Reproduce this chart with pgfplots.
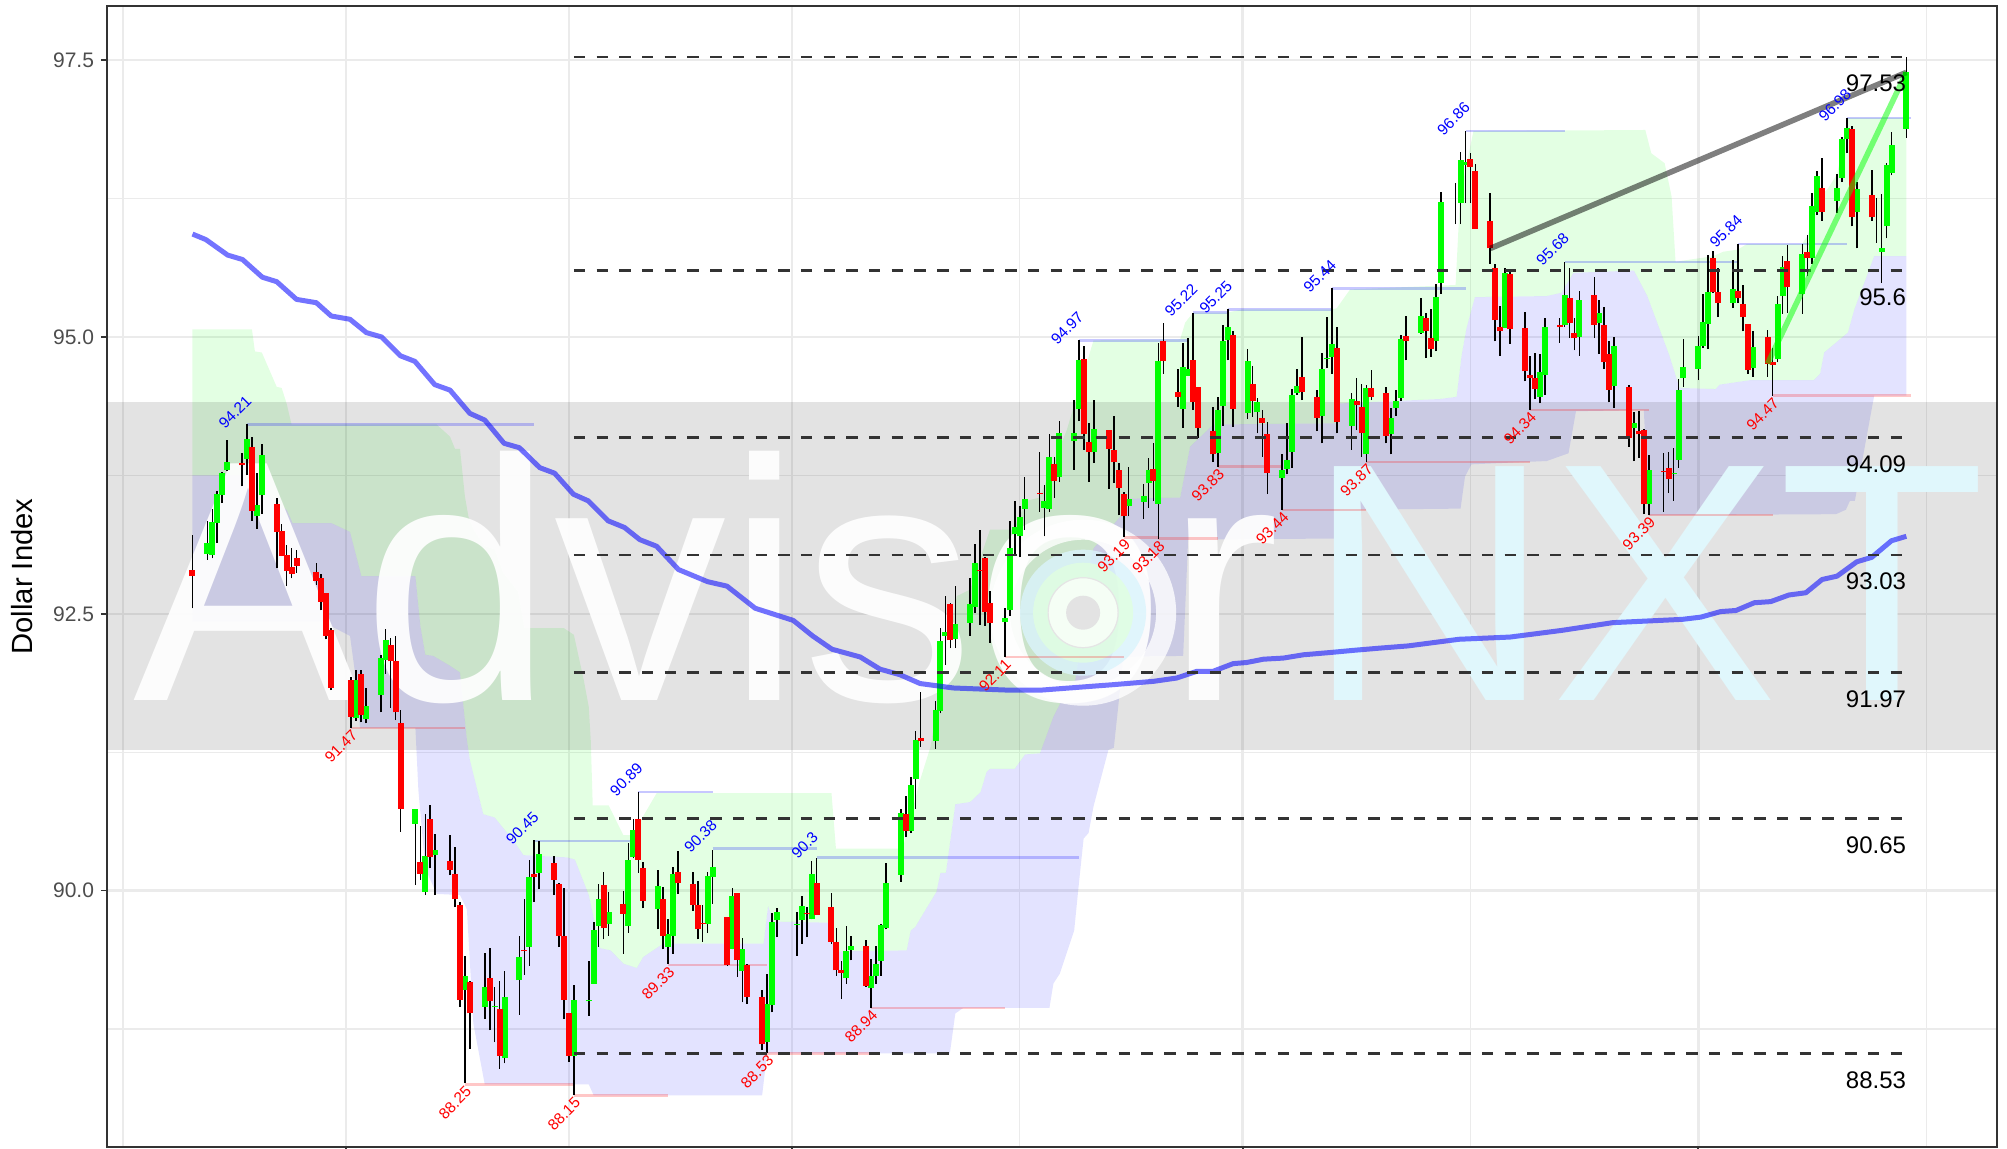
\documentclass[border=0pt]{standalone}
\usepackage{fontspec}
\setmainfont{Liberation Sans}
\usepackage{pgfplots}
\usepackage{pgfplotstable}
\pgfplotsset{compat=1.18}
\usepgfplotslibrary{fillbetween}
\definecolor{gridc}{HTML}{EBEBEB}
\definecolor{borderc}{HTML}{333333}
\definecolor{tickc}{HTML}{4D4D4D}
\definecolor{nxt}{HTML}{E0F7FC}
\pgfplotstableread{
d low high bot top
0 92.55 93.21 92.84 92.90
10 93.65 93.95 93.84 93.86
12 93.34 94.10 93.43 94.01
17 92.91 93.55 93.24 93.49
18 93.02 93.31 93.02 93.25
19 92.75 93.12 92.89 93.03
20 92.82 93.09 92.86 92.92
21 92.87 93.08 92.93 93.00
25 92.76 92.96 92.80 92.88
26 92.53 92.86 92.61 92.82
27 92.27 92.69 92.30 92.69
28 91.81 92.37 91.83 92.35
32 91.47 91.93 91.57 91.90
34 91.52 91.99 91.59 91.96
40 91.65 92.28 92.07 92.22
41 91.54 92.30 91.61 92.07
42 90.53 91.63 90.74 91.51
46 90.10 90.58 90.15 90.26
48 90.20 90.77 90.30 90.65
52 90.14 90.50 90.19 90.27
53 89.85 90.39 89.92 90.15
54 88.95 89.90 89.01 89.87
56 88.57 89.18 88.89 89.17
60 88.74 89.48 89.00 89.21
62 88.39 89.18 88.51 88.93
67 89.24 89.92 89.45 89.46
69 89.90 90.46 90.12 90.15
73 89.96 90.31 90.10 90.25
74 89.49 90.07 89.59 90.06
75 88.84 90.02 89.01 89.59
76 88.45 88.89 88.51 88.89
83 89.56 90.17 89.66 90.05
87 89.43 90.00 89.79 89.88
90 90.16 90.89 90.28 90.65
91 89.84 90.26 89.91 90.20
95 89.47 90.03 89.59 89.92
98 89.97 90.36 90.07 90.17
101 89.82 90.17 89.87 90.06
102 89.56 90.09 89.65 89.87
103 89.54 89.87 89.70 89.71
108 89.32 89.76 89.33 89.76
110 89.22 89.98 89.37 89.98
112 88.98 89.34 89.04 89.33
115 88.56 89.10 88.61 89.04
124 89.58 89.85 89.79 89.80
126 89.78 90.29 89.78 90.07
129 89.52 89.98 89.54 89.85
130 89.23 89.66 89.28 89.54
131 89.02 89.36 89.26 89.28
136 89.13 89.55 89.14 89.50
144 90.48 90.85 90.54 90.69
147 91.30 91.79 91.35 91.38
153 92.19 92.60 92.26 92.59
159 92.40 93.26 92.89 92.90
160 92.39 93.01 92.52 93.00
161 92.24 92.71 92.42 92.60
171 93.42 93.96 93.58 93.59
174 93.55 93.92 93.70 93.85
180 93.98 94.92 94.12 94.80
181 93.69 94.22 93.96 94.05
185 93.63 94.16 93.99 94.16
186 93.68 94.29 93.87 93.98
187 93.39 93.86 93.64 93.80
188 93.19 93.60 93.38 93.58
194 93.52 94.04 93.70 93.81
196 94.67 95.13 94.78 94.96
199 94.37 94.71 94.46 94.50
202 94.34 95.22 94.41 94.79
203 94.09 94.55 94.18 94.55
206 93.87 94.37 93.94 94.15
210 94.19 95.05 94.35 95.02
214 94.28 94.74 94.42 94.58
216 93.92 94.34 94.22 94.27
217 93.58 94.23 93.77 94.12
224 94.43 95.00 94.50 94.64
227 94.15 94.52 94.27 94.46
231 94.13 95.09 94.23 94.90
235 94.16 94.63 94.39 94.42
236 93.92 94.58 94.13 94.37
238 94.43 94.70 94.46 94.54
241 94.04 94.55 94.11 94.49
245 94.79 95.19 94.96 95.01
249 94.81 95.22 95.05 95.17
250 94.82 95.25 94.89 94.99
258 96.21 96.66 96.54 96.61
259 95.98 96.56 95.98 96.50
262 95.66 96.30 95.80 96.05
263 94.96 95.66 95.15 95.62
264 94.83 95.28 95.05 95.09
266 94.94 95.61 95.07 95.57
269 94.60 95.23 94.69 95.08
270 94.34 94.83 94.63 94.66
271 94.44 94.86 94.53 94.63
276 94.95 95.17 95.09 95.11
278 94.99 95.62 95.13 95.35
279 94.88 95.17 94.99 95.04
283 94.99 95.54 95.11 95.38
285 94.71 95.27 94.77 95.11
286 94.41 94.96 94.52 94.85
290 94.01 94.57 94.09 94.55
292 93.91 94.33 94.12 94.15
293 93.40 94.17 93.49 94.16
297 93.42 93.95 93.78 93.79
298 93.59 93.96 93.72 93.82
307 95.40 95.78 95.41 95.71
308 95.18 95.62 95.31 95.41
312 95.31 95.84 95.35 95.42
313 95.05 95.47 95.18 95.30
314 94.67 95.12 94.70 95.12
318 94.64 95.06 94.76 95.00
319 94.47 94.90 94.75 94.77
322 95.22 95.83 95.45 95.69
326 95.55 95.92 95.71 95.77
329 96.05 96.62 96.13 96.35
335 96.00 96.91 96.08 96.88
339 96.05 96.51 96.08 96.28
340 95.85 96.26 96.05 96.05
}\redt
\pgfplotstableread{
d low high bot top
3 92.99 93.34 93.04 93.14
4 93.00 93.45 93.03 93.33
5 93.14 93.61 93.32 93.58
6 93.50 93.78 93.57 93.77
7 93.79 94.07 93.80 93.87
11 93.75 94.21 93.90 94.08
13 93.27 93.77 93.38 93.48
14 93.40 94.03 93.57 93.93
33 91.53 91.99 91.56 91.90
35 91.51 91.83 91.55 91.67
38 91.61 92.13 91.77 92.10
39 91.96 92.36 92.08 92.26
45 90.05 90.74 90.60 90.74
47 89.96 90.69 89.99 90.31
49 89.96 90.51 90.32 90.37
55 88.26 89.41 89.10 89.23
59 88.84 89.44 88.95 89.13
61 88.63 89.13 88.95 88.96
63 88.44 89.27 88.49 89.04
66 88.88 89.59 89.19 89.40
68 89.32 90.28 89.49 90.12
70 90.01 90.45 90.16 90.33
77 88.15 89.15 88.51 89.01
80 88.87 89.36 89.00 89.01
81 89.16 89.72 89.16 89.64
82 89.49 90.06 89.68 89.92
84 89.59 89.99 89.70 89.81
88 89.62 90.43 89.68 90.28
89 90.29 90.65 90.30 90.55
94 89.65 90.19 89.83 90.04
96 89.34 89.74 89.49 89.61
97 89.43 90.21 89.59 90.15
104 89.62 90.17 89.70 90.13
105 89.88 90.37 90.12 90.21
109 89.47 90.02 89.47 89.95
111 88.99 89.57 89.27 89.47
116 88.53 89.25 88.63 88.98
117 88.90 89.80 88.97 89.72
118 89.58 89.84 89.73 89.81
122 89.41 89.81 89.69 89.70
123 89.52 89.95 89.73 89.86
125 89.74 90.27 89.74 90.15
132 89.16 89.68 89.21 89.45
133 89.37 89.59 89.46 89.50
137 88.94 89.38 89.12 89.23
138 89.16 89.50 89.23 89.34
139 89.23 89.70 89.36 89.69
140 89.65 90.25 89.66 90.07
143 90.08 90.74 90.14 90.70
145 90.52 91.03 90.54 90.95
146 90.74 91.44 91.01 91.36
150 91.28 91.71 91.35 91.63
151 91.60 92.37 91.62 92.25
152 92.04 92.66 92.30 92.34
154 92.19 92.75 92.27 92.41
157 92.30 92.82 92.42 92.59
158 92.51 93.13 92.56 92.96
164 92.11 92.55 92.43 92.46
165 92.48 93.34 92.53 93.09
166 93.02 93.52 93.22 93.28
167 93.01 93.47 93.20 93.37
168 93.26 93.74 93.45 93.54
172 93.20 93.66 93.46 93.52
173 93.42 94.12 93.45 93.92
175 93.69 94.24 93.74 94.13
178 93.80 94.43 94.06 94.13
179 94.24 94.97 94.35 94.79
182 93.86 94.43 93.96 94.17
189 93.38 93.83 93.47 93.54
192 93.36 93.67 93.51 93.56
193 93.46 93.91 93.68 93.80
195 93.18 94.95 93.49 94.78
200 94.18 94.95 94.35 94.73
201 94.65 94.99 94.65 94.71
207 93.83 94.46 93.95 94.34
208 94.20 95.11 94.38 94.96
209 94.79 95.25 94.97 95.09
213 94.26 94.89 94.31 94.78
215 94.13 94.45 94.32 94.41
220 93.44 93.94 93.73 93.80
221 93.76 94.22 93.81 93.89
222 93.82 94.53 93.96 94.48
223 94.48 94.71 94.49 94.56
228 94.04 94.86 94.29 94.71
229 94.72 95.18 94.80 94.81
230 94.67 95.44 94.82 94.94
234 93.98 94.49 94.20 94.44
237 93.87 94.57 93.94 94.54
242 93.94 94.36 94.12 94.27
243 94.29 94.52 94.36 94.42
244 94.42 95.02 94.45 94.98
248 95.03 95.35 95.04 95.19
251 94.87 95.48 94.96 95.36
252 95.39 96.31 95.49 96.22
255 96.02 96.39 96.20 96.20
256 96.02 96.67 96.21 96.60
257 96.21 96.86 96.55 96.58
265 95.08 95.62 95.08 95.58
272 94.40 94.85 94.46 94.68
273 94.48 95.17 94.66 95.09
277 95.09 95.68 95.11 95.38
280 94.83 95.42 95.00 95.33
284 94.85 95.33 95.13 95.22
287 94.36 95.00 94.56 94.92
291 93.88 94.32 94.18 94.22
294 93.39 93.93 93.49 93.80
299 93.52 94.00 93.76 93.77
300 93.82 94.62 93.89 94.52
301 94.55 94.98 94.63 94.73
304 94.61 95.01 94.71 94.92
305 94.90 95.39 94.92 95.14
306 94.89 95.74 95.12 95.41
311 95.26 95.70 95.31 95.43
315 94.64 95.05 94.72 94.91
320 94.77 95.37 94.80 95.30
321 95.21 95.73 95.37 95.63
325 95.21 95.84 95.39 95.75
327 95.66 96.30 95.71 96.18
328 96.10 96.50 96.13 96.45
332 96.12 96.47 96.23 96.35
333 96.40 96.81 96.44 96.79
334 96.66 96.98 96.79 96.89
336 95.80 96.40 96.13 96.34
341 95.49 96.29 95.77 95.80
342 95.89 96.57 96.00 96.55
343 96.46 96.85 96.48 96.73
346 96.80 97.53 96.88 97.39
}\greent
\pgfplotstableread{
d v
0 95.07
12 95.07
12.6 94.87
14 94.86
17 94.55
18 94.54
19 94.40
20 94.21
49.3 94.21
52 94.10
53 93.99
54 93.99
55 93.56
55.7 93.38
56.7 93.26
59 93.11
61 93.08
62.7 92.87
65.7 92.70
67 92.37
75 92.37
77 92.31
79 91.90
80 91.66
80.4 91.36
80.8 90.77
84 90.77
87 90.50
88.7 90.50
90.7 90.65
93.7 90.88
129 90.88
129.9 90.38
143.4 90.38
146.9 91.0
149 91.3
151 91.85
152.5 92.2
154.3 92.66
157 92.72
159 93.0
161 93.26
165.7 93.26
168.4 93.52
171 93.55
176.5 94.16
178.5 94.46
181.9 94.97
199.4 94.98
200.4 95.13
202 95.22
208.8 95.22
212 95.25
230 95.25
231 95.26
233.7 95.43
255 95.47
255.9 96.27
258.6 96.86
293.3 96.87
294.5 96.66
297.2 96.57
298.6 96.27
299.4 95.68
307 95.73
309 95.77
312 95.79
313.8 95.84
324.9 95.84
326 95.91
328.2 96.24
330.3 96.35
332 96.47
333.6 96.80
334.3 96.98
346 96.98
}\bandH
\pgfplotstableread{
d v
0 93.75
9.6 93.75
15 93.61
16.6 93.50
19 93.44
20.2 93.32
28 93.32
31.8 93.24
34.1 92.84
45 92.84
46 92.39
47 92.13
48.6 92.12
52 92.03
54 91.97
55.4 91.36
56 91.18
58.7 90.69
61 90.66
65 90.44
66.8 90.32
75.6 90.30
77.2 90.28
80 89.96
82.3 89.48
84.4 89.46
87 89.34
89.7 89.30
91 89.40
95 89.52
115.3 89.52
116.2 89.86
117.3 89.72
128.4 89.71
130 89.45
144.2 89.46
145 89.64
145.9 89.67
150.2 89.99
151 90.16
152.1 90.16
154 90.78
157 90.80
159.1 90.89
160.3 91.07
161 91.10
166 91.10
168.1 91.23
171.1 91.24
173.8 91.57
176.2 91.78
178.2 91.90
179.5 92.27
180.5 92.81
181.9 93.09
187.3 93.38
189.3 93.54
199.4 93.55
201.4 94.01
206.1 94.21
231 94.22
231.6 94.40
251.8 94.44
255.2 94.46
256.2 94.83
257.2 95.08
258.9 95.36
273.4 95.37
276.4 95.40
278.8 95.58
291 95.60
293.7 95.37
298.1 94.84
300.2 94.54
307.5 94.53
308.3 94.57
314.4 94.61
327.3 94.61
328.6 94.67
329.4 94.86
334.2 95.04
335.5 95.25
339.5 95.73
346 95.73
}\bandM
\pgfplotstableread{
d v
0 92.43
26.2 92.43
31.8 92.30
33.1 91.87
33.8 91.47
45 91.47
45.6 90.91
47 90.2
49.3 89.97
54 89.96
55.4 89.83
56.7 88.80
59 88.25
80 88.25
81 88.15
115 88.15
116 88.53
152.9 88.53
154 88.89
155.6 88.94
173 88.94
173.8 89.16
175.1 89.25
178 89.64
178.8 90.0
179.9 90.47
180.9 90.52
181.9 90.76
184.9 91.27
186 91.29
187.6 91.96
187.9 92.11
200 92.12
201 93.17
231 93.18
234 93.44
256 93.45
256.9 93.74
258.2 93.85
273.4 93.88
277.8 93.95
279.3 94.33
293 94.34
294 93.39
331.8 93.40
333.8 93.44
334.6 93.52
335.6 93.52
339.5 94.47
346 94.47
}\bandL
\pgfplotstableread{
d v
0 95.93
2.7 95.88
7.1 95.74
10.1 95.70
14.1 95.54
17 95.50
21 95.34
25 95.31
28 95.19
31.8 95.16
35.1 95.04
38.2 95.00
42 94.83
44.9 94.78
48.9 94.57
52 94.52
56 94.31
59 94.25
62.9 94.04
66 94.00
70.1 93.82
73.1 93.77
76.9 93.58
79.9 93.52
83.9 93.34
87.2 93.28
90.3 93.17
93.7 93.11
98.1 92.90
104 92.79
107.9 92.75
113.6 92.55
121.3 92.44
125.2 92.30
129.1 92.18
134.8 92.11
138.8 92.00
142.8 91.95
146.9 91.87
153.6 91.83
165 91.81
171.1 91.81
185.9 91.86
194 91.89
198.7 91.92
202.7 91.98
206 91.98
210.1 92.05
212.8 92.06
216.2 92.09
220.2 92.10
224.3 92.13
229.6 92.15
234.4 92.17
239.7 92.19
245.4 92.21
255.7 92.27
266 92.29
276.4 92.35
286.7 92.42
300.8 92.45
304.5 92.47
308.5 92.52
311.6 92.53
315.3 92.60
318.6 92.61
322.3 92.67
325.7 92.69
329 92.81
332 92.84
336 92.97
339 93.01
343 93.16
346 93.20
}\mat
\pgfplotstableread{
d v lab
11 94.21 94.21
69 90.45 90.45
90 90.89 90.89
105 90.38 90.38
126 90.30 90.3
179 94.97 94.97
202 95.22 95.22
209 95.25 95.25
230 95.44 95.44
257 96.86 96.86
277 95.68 95.68
312 95.84 95.84
334 96.98 96.98
}\hilabs
\pgfplotstableread{
d v lab
32 91.47 91.47
55 88.25 88.25
77 88.15 88.15
96 89.33 89.33
116 88.53 88.53
137 88.94 88.94
164 92.11 92.11
188 93.19 93.19
195 93.18 93.18
207 93.83 93.83
220 93.44 93.44
237 93.87 93.87
270 94.34 94.34
294 93.39 93.39
319 94.47 94.47
}\lolabs
\pgfplotstableread{
d v lab
346 97.29 97.53
346 95.36 95.6
346 93.85 94.09
346 92.79 93.03
346 91.73 91.97
346 90.41 90.65
346 88.29 88.53
}\srlabs
\newcommand\wick[1]{\addplot[forget plot,draw=none,error bars/y dir=plus,error bars/y explicit,error bars/error mark=none,error bars/error bar style={line width=.8bp,solid,black},no marks] table[x=d,y=low,y error plus expr=\thisrow{high}-\thisrow{low}] {#1};}
\newcommand\body[2]{\addplot[forget plot,draw=none,error bars/y dir=plus,error bars/y explicit,error bars/error mark=none,error bars/error bar style={line width=3bp,solid,#2},no marks] table[x=d,y=bot,y error plus expr=\thisrow{top}-\thisrow{bot}] {#1};}
\newcommand\lvlb[3]{\addplot[forget plot,blue,opacity=.22,line width=1.2bp] coordinates {(#1,#3) (#2,#3)};}
\newcommand\lvlr[3]{\addplot[forget plot,red,opacity=.22,line width=1.2bp] coordinates {(#1,#3) (#2,#3)};}
\newcommand\sr[1]{\addplot[forget plot,borderc,line width=1.3bp,dash pattern=on 5.7bp off 5.65bp] coordinates {(77,#1) (346,#1)};}
\begin{document}
\begin{tikzpicture}
\begin{axis}[
 scale only axis, width=945bp, height=570.5bp,
 xmin=-17.26, xmax=364.3, ymin=87.684, ymax=97.99,
 axis line style={borderc,line width=1.1bp},
 tick align=outside, xtick pos=bottom, ytick pos=left,
 major tick length=3bp, minor tick length=0pt,
 tick style={borderc,line width=.9bp},
 minor tick style={draw=none},
 xtick={31,121,212,304}, xticklabels={},
 minor xtick={-14,76,167,258,350},
 ytick={90,92.5,95,97.5}, yticklabels={90.0,92.5,95.0,97.5},
 minor ytick={88.75,91.25,93.75,96.25},
 grid=both,
 major grid style={gridc,line width=1.25bp},
 minor grid style={gridc,line width=.65bp},
 ticklabel style={font=\fontsize{10.5bp}{12bp}\selectfont,text=tickc},
 ylabel={Dollar Index},
 ylabel style={at={(axis description cs:-0.045,0.5)},anchor=center,font=\fontsize{14.6bp}{16bp}\selectfont},
 clip=true,
]
% watermark band
\fill[black,opacity=.11] (axis cs:-17.26,91.27) rectangle (axis cs:364.3,94.41);
\node[anchor=base west,inner sep=0pt,text=white,opacity=.93] at (axis cs:-12,91.72) {\fontsize{172bp}{172bp}\selectfont Advisor};
\node[anchor=base west,inner sep=0pt,text=nxt] at (axis cs:224.8,91.72) {\fontsize{170bp}{170bp}\selectfont NXT};
% logo
\draw[white,line width=10bp,opacity=.8] (axis cs:179.8,92.51) circle[radius=41.5bp];
\fill[fill=cyan!14!white,opacity=.8] (axis cs:179.8,92.51) circle[radius=31.5bp];
\fill[fill=green!12!white,opacity=.8] (axis cs:179.8,92.51) circle[radius=25bp];
\fill[fill=black!6!green!4!white,draw=black!10,line width=.6bp] (axis cs:179.8,92.51) circle[radius=17.5bp];
\fill[fill=black!11] (axis cs:179.8,92.51) circle[radius=8.5bp];
% ribbons
\addplot[forget plot,draw=none,name path=H] table[x=d,y=v] {\bandH};
\addplot[forget plot,draw=none,name path=M] table[x=d,y=v] {\bandM};
\addplot[forget plot,draw=none,name path=L] table[x=d,y=v] {\bandL};
\addplot[forget plot,fill=green,fill opacity=.11,draw=none] fill between[of=H and M];
\addplot[forget plot,fill=blue,fill opacity=.11,draw=none] fill between[of=M and L];
% pivot levels
\lvlb{11}{69}{94.21}\lvlb{69}{90}{90.45}\lvlb{90}{105}{90.89}\lvlb{105}{126}{90.38}\lvlb{126}{179}{90.30}
\lvlb{179}{201}{94.97}\lvlb{202}{209}{95.22}\lvlb{209}{230}{95.25}\lvlb{230}{257}{95.44}\lvlb{257}{277}{96.86}
\lvlb{277}{312}{95.68}\lvlb{312}{334}{95.84}\lvlb{334}{347}{96.98}
\lvlr{32}{55}{91.47}\lvlr{55}{77}{88.25}\lvlr{77}{96}{88.15}\lvlr{96}{116}{89.33}\lvlr{116}{137}{88.53}
\lvlr{137}{164}{88.94}\lvlr{164}{188}{92.11}\lvlr{188}{195}{93.19}\lvlr{195}{207}{93.18}\lvlr{207}{220}{93.83}
\lvlr{220}{237}{93.44}\lvlr{237}{270}{93.87}\lvlr{270}{294}{94.34}\lvlr{294}{319}{93.39}\lvlr{319}{347}{94.47}
% candles
\wick{\redt}
\wick{\greent}
\body{\greent}{green}
\body{\redt}{red}
% moving average
\addplot[forget plot,blue,opacity=.55,line width=2.5bp,line join=round] table[x=d,y=v] {\mat};
% support and resistance
\sr{97.53}\sr{95.6}\sr{94.09}\sr{93.03}\sr{91.97}\sr{90.65}\sr{88.53}
% trend lines
\addplot[forget plot,black,opacity=.5,line width=2.8bp] coordinates {(262,95.80) (346,97.39)};
\addplot[forget plot,green,opacity=.5,line width=2.8bp] coordinates {(318,94.76) (346,97.39)};
% labels
\addplot[forget plot,draw=none,no marks,point meta=explicit symbolic,nodes near coords,
 nodes near coords style={xshift=-6bp,yshift=6.2bp,rotate=45,anchor=center,inner sep=0pt,font=\fontsize{7.7bp}{8bp}\selectfont,text=blue}]
 table[x=d,y=v,meta=lab] {\hilabs};
\addplot[forget plot,draw=none,no marks,point meta=explicit symbolic,nodes near coords,
 nodes near coords style={xshift=-5bp,yshift=-9.2bp,rotate=45,anchor=center,inner sep=0pt,font=\fontsize{7.7bp}{8bp}\selectfont,text=red}]
 table[x=d,y=v,meta=lab] {\lolabs};
\addplot[forget plot,draw=none,no marks,point meta=explicit symbolic,nodes near coords,
 nodes near coords style={anchor=east,inner sep=0pt,font=\fontsize{12bp}{13bp}\selectfont,text=black}]
 table[x=d,y=v,meta=lab] {\srlabs};
\end{axis}
\pgfresetboundingbox
\useasboundingbox (-53.5bp,-1bp) rectangle (950bp,573.5bp);
\end{tikzpicture}
\end{document}
